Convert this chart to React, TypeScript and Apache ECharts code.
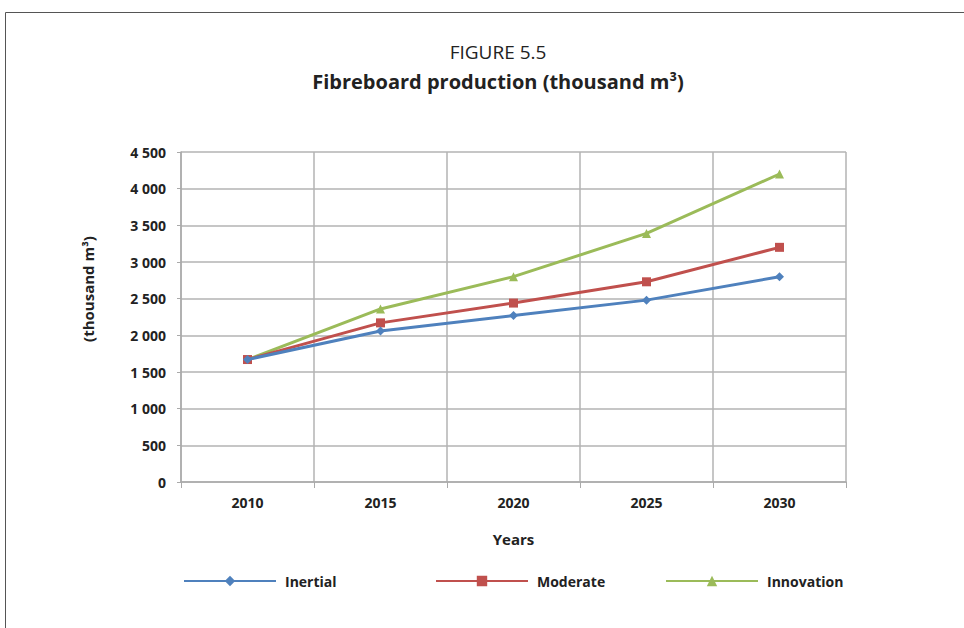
import React, { useEffect, useRef } from "react";
import * as echarts from "echarts";

const years = ["2010", "2015", "2020", "2025", "2030"];
const inertial = [1670, 2060, 2270, 2480, 2800];
const moderate = [1670, 2170, 2440, 2730, 3200];
const innovation = [1670, 2360, 2800, 3390, 4200];
const seriesNames = ["Inertial", "Moderate", "Innovation"];
const colors = ["#4F81BD", "#C0504D", "#9BBB59"];
const symbols = ["diamond", "rect", "triangle"];

const FONT = "'Open Sans', 'Noto Sans', sans-serif";

export default function App() {
  const ref = useRef<HTMLDivElement>(null);
  useEffect(() => {
    if (!ref.current) return;
    const chart = echarts.init(ref.current, undefined, { renderer: "svg" });
    const datas = [inertial, moderate, innovation];
    const legendLefts = [183, 435, 665];
    chart.setOption({
      animation: false,
      backgroundColor: "#ffffff",
      textStyle: { fontFamily: FONT },
      title: [
        {
          text: "FIGURE 5.5",
          left: 493,
          textAlign: "center",
          top: 37,
          textStyle: { fontFamily: FONT, fontSize: 19, fontWeight: "normal", color: "#222" },
        },
        {
          text: "Fibreboard production (thousand m³)",
          left: 493,
          textAlign: "center",
          top: 66,
          textStyle: { fontFamily: FONT, fontSize: 20, fontWeight: "bold", color: "#222" },
        },
      ],
      graphic: [
        { type: "line", shape: { x1: 5.5, y1: 12.5, x2: 964, y2: 12.5 }, style: { stroke: "#555", lineWidth: 1 } },
        { type: "line", shape: { x1: 5.5, y1: 12.5, x2: 5.5, y2: 628 }, style: { stroke: "#555", lineWidth: 1 } },
        {
          type: "text",
          x: 88,
          y: 289,
          rotation: Math.PI / 2,
          style: {
            text: "(thousand m³)",
            fontFamily: FONT,
            fontSize: 15,
            fontWeight: "bold",
            fill: "#222",
            textAlign: "center",
            textVerticalAlign: "middle",
          },
        },
      ],
      legend: seriesNames.map((n, i) => ({
        data: [n],
        left: legendLefts[i],
        top: 574,
        padding: 0,
        itemWidth: 92,
        itemHeight: 13,
        itemGap: 10,
        textStyle: { fontFamily: FONT, fontSize: 14, fontWeight: "bold", color: "#222", padding: [0, 0, 0, 4] },
      })),
      grid: { left: 181, right: 118, top: 152, bottom: 146 },
      xAxis: {
        type: "category",
        data: years,
        boundaryGap: true,
        name: "Years",
        nameLocation: "middle",
        nameGap: 49,
        nameTextStyle: { fontFamily: FONT, fontSize: 15, fontWeight: "bold", color: "#222" },
        axisLine: { lineStyle: { color: "#aaa", width: 1.5 } },
        axisTick: { show: true, length: 6, lineStyle: { color: "#aaa" } },
        axisLabel: { fontFamily: FONT, fontSize: 14, fontWeight: "bold", color: "#222", margin: 13 },
        splitLine: { show: true, lineStyle: { color: "#b3b3b3", width: 1.5 } },
      },
      yAxis: {
        type: "value",
        min: 0,
        max: 4500,
        interval: 500,
        axisLine: { show: true, lineStyle: { color: "#aaa", width: 1.5 } },
        axisTick: { show: true, length: 4, lineStyle: { color: "#aaa" } },
        axisLabel: {
          fontFamily: FONT,
          fontSize: 14,
          fontWeight: "bold",
          color: "#222",
          margin: 15,
          formatter: (v: number) => String(v).replace(/\B(?=(\d{3})+(?!\d))/g, " "),
        },
        splitLine: { show: true, lineStyle: { color: "#b3b3b3", width: 1.5 } },
      },
      series: seriesNames.map((n, i) => ({
        name: n,
        type: "line",
        data: datas[i],
        symbol: symbols[i],
        symbolSize: 9,
        showSymbol: true,
        lineStyle: { color: colors[i], width: 3 },
        itemStyle: { color: colors[i] },
        z: 3 - i,
      })),
    });
    return () => chart.dispose();
  }, []);
  return <div ref={ref} style={{ position: "fixed", left: 0, top: 0, width: 964, height: 628 }} />;
}
